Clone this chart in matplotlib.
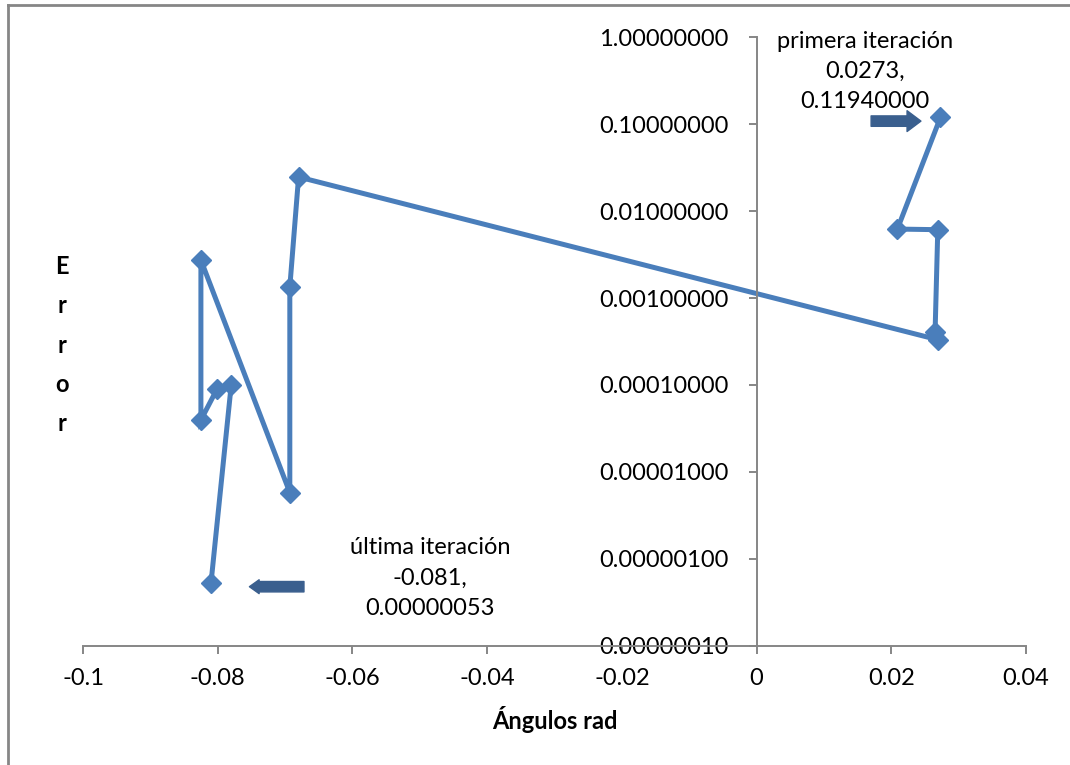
import matplotlib
matplotlib.use("Agg")
import matplotlib.pyplot as plt
from matplotlib.ticker import FixedLocator, FuncFormatter
from matplotlib.lines import Line2D

plt.rcParams['font.family'] = ['Lato', 'DejaVu Sans']

# iteration path (angle in rad, error)
angulos = [0.0273, 0.0209, 0.0269, 0.0265, 0.0270,
           -0.0680, -0.0693, -0.0693, -0.0825, -0.0825,
           -0.0801, -0.0780, -0.0810]
errores = [0.1194, 0.0062, 0.0061, 0.00041, 0.00033,
           0.0246, 0.00134, 0.0000058, 0.00273, 0.0000396,
           0.000090, 0.000100, 0.00000053]

yticks = [1e-7, 1e-6, 1e-5, 1e-4, 1e-3, 1e-2, 1e-1, 1.0]
xticks = [-0.1, -0.08, -0.06, -0.04, -0.02, 0, 0.02, 0.04]

azul = '#4A7EBB'
flecha = '#3A5F8E'
gris = '#868686'

fig = plt.figure(figsize=(10.7, 7.65), dpi=100)
ax = fig.add_axes([0.0776, 0.1556, 0.8813, 0.796])

ax.plot(angulos, errores, color=azul, lw=3.6, marker='D', ms=10,
        mfc=azul, mec=azul, solid_joinstyle='miter')

ax.set_yscale('log')
ax.set_xlim(-0.1, 0.04)
ax.set_ylim(1e-7, 1.0)
ax.yaxis.set_major_locator(FixedLocator(yticks))
ax.yaxis.set_minor_locator(FixedLocator([]))
ax.yaxis.set_major_formatter(FuncFormatter(lambda v, p: '%.8f' % v))
ax.xaxis.set_major_locator(FixedLocator(xticks))
ax.xaxis.set_major_formatter(FuncFormatter(lambda v, p: '0' if abs(v) < 1e-12 else ('%g' % v)))

ax.spines['left'].set_position(('data', 0))
ax.spines['top'].set_visible(False)
ax.spines['right'].set_visible(False)
for s in ('left', 'bottom'):
    ax.spines[s].set_color(gris)
    ax.spines[s].set_linewidth(1.4)
ax.tick_params(axis='both', colors=gris, labelcolor='black', labelsize=17,
               length=6, width=1.4, direction='out')
ax.tick_params(axis='x', pad=10)
ax.tick_params(axis='y', pad=14)
ax.set_facecolor('none')

ax.set_xlabel('Ángulos rad', fontsize=17, fontweight='bold', labelpad=12)
fig.text(0.058, 0.549, 'E\nr\nr\no\nr', fontsize=17, fontweight='bold',
         ha='center', va='center', linespacing=1.85)

ax.text(0.0161, 0.40, 'primera iteración\n0.0273,\n0.11940000', fontsize=17,
        ha='center', va='center', linespacing=1.55)
ax.text(-0.0485, 6.0e-7, 'última iteración\n-0.081,\n0.00000053', fontsize=17,
        ha='center', va='center', linespacing=1.55)

ax.annotate('', xy=(0.0244, 0.108), xytext=(0.0170, 0.108),
            arrowprops=dict(arrowstyle='simple,head_length=1.0,head_width=1.5,tail_width=0.75',
                            mutation_scale=10, color=flecha, shrinkA=0, shrinkB=0))
ax.annotate('', xy=(-0.0753, 4.8e-7), xytext=(-0.0672, 4.8e-7),
            arrowprops=dict(arrowstyle='simple,head_length=0.7,head_width=1.0,tail_width=0.75',
                            mutation_scale=10, color=flecha, shrinkA=0, shrinkB=0))

# outer chart frame
fig.add_artist(Line2D([8/1070, 8/1070], [0, 1 - 5/765], color=gris, lw=2))
fig.add_artist(Line2D([8/1070, 1], [1 - 5/765, 1 - 5/765], color=gris, lw=2))

fig.savefig('out.png', dpi=100)
